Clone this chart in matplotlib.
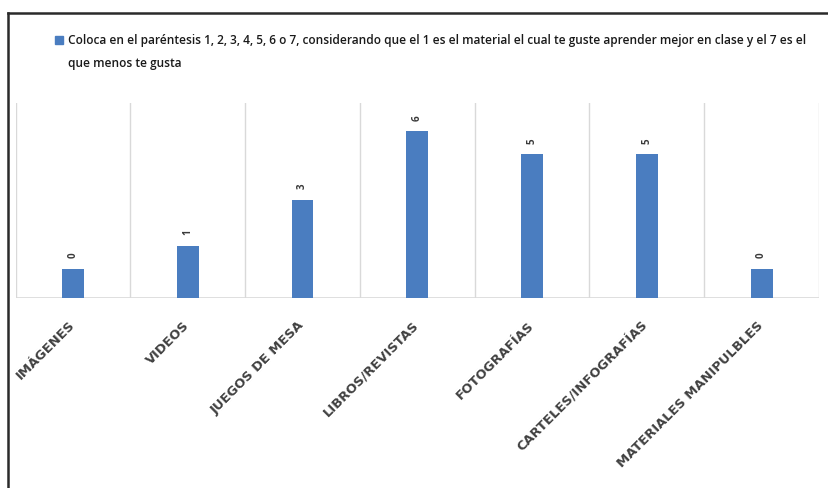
import matplotlib
matplotlib.use("Agg")
import matplotlib.pyplot as plt
from matplotlib.lines import Line2D
from matplotlib.patches import Rectangle
import matplotlib.transforms as mtransforms
import numpy as np

# Survey results: ranking of preferred classroom materials
categories = ["IMÁGENES", "VIDEOS", "JUEGOS DE MESA", "LIBROS/REVISTAS",
              "FOTOGRAFÍAS", "CARTELES/INFOGRAFÍAS", "MATERIALES MANIPULBLES"]
values = [0, 1, 3, 6, 5, 5, 0]
series_name = ("Coloca en el paréntesis 1, 2, 3, 4, 5, 6 o 7, considerando que el 1 es el "
               "material el cual te guste aprender mejor en clase y el 7 es el\nque menos te gusta")

BAR_COLOR = "#4a7dc0"
GRID_COLOR = "#d9d9d9"
TEXT_COLOR = "#3a3a3a"
AXIS_MIN, AXIS_MAX = -1.29, 7.24

W, H = 829, 488
fig = plt.figure(figsize=(W / 100, H / 100), dpi=100)
fig.patch.set_facecolor("white")

ax = fig.add_axes([15.5 / W, 1 - 298 / H, (819 - 15.5) / W, (298 - 103) / H])
x = np.arange(len(categories))

# bars rise from the value-axis floor up to each value
heights = [v - AXIS_MIN for v in values]
bars = ax.bar(x, heights, bottom=AXIS_MIN, width=0.19, color=BAR_COLOR, zorder=3)

for xi, v in zip(x, values):
    ax.annotate(str(v), xy=(xi, v), xytext=(0, 9.5), textcoords="offset points",
                rotation=90, ha="center", va="center", fontsize=7,
                color=TEXT_COLOR, fontfamily="Open Sans", fontweight="bold")

ax.set_xlim(-0.5, len(categories) - 0.5)
ax.set_ylim(AXIS_MIN, AXIS_MAX)

# vertical gridlines between categories
for b in np.arange(-0.5, len(categories), 1.0):
    ax.axvline(b, color=GRID_COLOR, lw=1.0, zorder=1)
ax.axhline(AXIS_MIN, color=GRID_COLOR, lw=1.2, zorder=2)

for s in ax.spines.values():
    s.set_visible(False)
ax.set_yticks([])
ax.set_xticks(x)
ax.set_xticklabels(categories, rotation=45, ha="right", va="top", rotation_mode="anchor",
                   fontsize=9.4, color="#404040", fontfamily="DejaVu Sans",
                   fontweight="bold")
ax.tick_params(axis="x", length=0, pad=15)
shift = mtransforms.ScaledTranslation(-5 / 100, 0, fig.dpi_scale_trans)
for lbl in ax.get_xticklabels():
    lbl.set_transform(lbl.get_transform() + shift)

# series key
fig.patches.append(Rectangle((55 / W, 1 - 44 / H), 8 / W, 8 / H,
                             transform=fig.transFigure, color=BAR_COLOR))
fig.text(68 / W, 1 - 34 / H, series_name, ha="left", va="top", fontsize=8.6,
         fontfamily="Open Sans", fontweight="semibold", color="#1a1a1a",
         linespacing=1.95, transform=fig.transFigure)

# frame lines along the top and left edges
fig.add_artist(Line2D([8 / W, 1], [1 - 12.5 / H, 1 - 12.5 / H], color="#2a2a2a",
                      lw=1.8, transform=fig.transFigure))
fig.add_artist(Line2D([8 / W, 8 / W], [1 - 12.5 / H, 0], color="#2a2a2a",
                      lw=1.8, transform=fig.transFigure))

fig.savefig("out.png", dpi=100, facecolor="white")
